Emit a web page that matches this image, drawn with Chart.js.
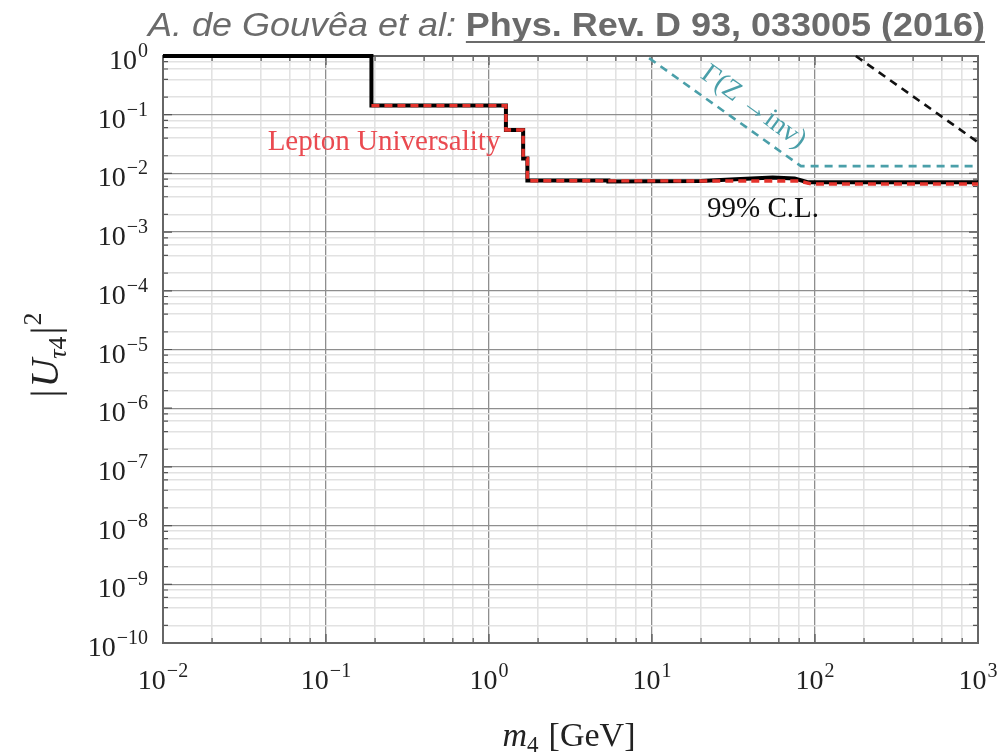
<!DOCTYPE html>
<html>
<head>
<meta charset="utf-8">
<script src="https://cdn.jsdelivr.net/npm/chart.js@4.4.1/dist/chart.umd.min.js"></script>
<style>
  body { margin: 0; background: #fff; }
  canvas { display: block; }
</style>
</head>
<body>
<canvas id="myChart1" width="997" height="754"></canvas>
<script>
// decades that get a label, and the minor grid steps inside each decade
var xDecades = [-2, -1, 0, 1, 2, 3];
var yDecades = [0, -1, -2, -3, -4, -5, -6, -7, -8, -9, -10];
var minorSteps = [2, 4, 6, 8];

// 99% C.L. bound (black solid)
var clMass = [0.01, 0.19, 0.19, 1.27, 1.27, 1.62, 1.62, 1.72, 1.72, 5.4, 5.4, 20, 35, 55, 75, 90, 1000];
var clU2 = [1, 1, 0.143, 0.143, 0.055, 0.055, 0.018, 0.018, 0.0076, 0.0076, 0.0073, 0.0074, 0.0080, 0.0085, 0.0082, 0.0071, 0.0071];

// lepton universality (red dashed)
var luMass = [0.19, 1.27, 1.27, 1.62, 1.62, 1.72, 1.72, 80, 95, 1000];
var luU2 = [0.143, 0.143, 0.055, 0.055, 0.018, 0.018, 0.0075, 0.0074, 0.0066, 0.0066];

// Gamma(Z -> inv) (teal dashed)
var zMass = [9.6, 82, 1000];
var zU2 = [0.92, 0.0133, 0.0133];

// black dashed, top right
var dMass = [178, 1000];
var dU2 = [1, 0.034];

function pts(xs, ys) {
  return xs.map(function (x, i) { return { x: x, y: ys[i] }; });
}

function gridValues(decades) {
  var out = [];
  decades.forEach(function (d) {
    out.push(Math.pow(10, d));
    minorSteps.forEach(function (m) { out.push(m * Math.pow(10, d)); });
  });
  var lo = Math.pow(10, Math.min.apply(null, decades));
  var hi = Math.pow(10, Math.max.apply(null, decades));
  return out.filter(function (v) { return v >= lo * 0.999 && v <= hi * 1.001; })
            .sort(function (a, b) { return a - b; });
}

function isMajor(v) {
  var l = Math.log10(v);
  return Math.abs(l - Math.round(l)) < 1e-6;
}

var SERIF = '"Liberation Serif", "DejaVu Serif", serif';
var SANS = '"Liberation Sans", Arial, sans-serif';

// text runs drawn one after another (for sub/superscripts)
function runsWidth(ctx, runs) {
  var w = 0;
  runs.forEach(function (r) { ctx.font = r.font; w += ctx.measureText(r.t).width + (r.gap || 0); });
  return w;
}
function drawRuns(ctx, runs, x, y) {
  runs.forEach(function (r) {
    ctx.font = r.font;
    ctx.fillText(r.t, x, y + (r.dy || 0));
    var w = ctx.measureText(r.t).width;
    if (r.underline) ctx.fillRect(x, y + 5, w, 2);
    x += w + (r.gap || 0);
  });
}
function powRuns(e) {
  return [
    { t: '10', font: '28px ' + SERIF, gap: 1 },
    { t: e < 0 ? '\u2212' + (-e) : String(e), font: '20px ' + SERIF, dy: -12 }
  ];
}

var decor = {
  id: 'decor',
  beforeDatasetsDraw: function (chart) {
    var ctx = chart.ctx, a = chart.chartArea;
    var xs = chart.scales.x, ys = chart.scales.y;
    ctx.save();
    ctx.strokeStyle = '#555';
    ctx.lineWidth = 1.2;
    xs.ticks.forEach(function (t) {
      var px = xs.getPixelForValue(t.value), len = isMajor(t.value) ? 9 : 5;
      ctx.beginPath();
      ctx.moveTo(px, a.bottom); ctx.lineTo(px, a.bottom - len);
      ctx.moveTo(px, a.top); ctx.lineTo(px, a.top + len);
      ctx.stroke();
    });
    ys.ticks.forEach(function (t) {
      var py = ys.getPixelForValue(t.value), len = isMajor(t.value) ? 9 : 5;
      ctx.beginPath();
      ctx.moveTo(a.left, py); ctx.lineTo(a.left + len, py);
      ctx.moveTo(a.right, py); ctx.lineTo(a.right - len, py);
      ctx.stroke();
    });
    ctx.strokeStyle = '#666';
    ctx.lineWidth = 2;
    ctx.strokeRect(a.left, a.top, a.right - a.left, a.bottom - a.top);
    ctx.restore();
  },
  afterDraw: function (chart) {
    var ctx = chart.ctx, a = chart.chartArea;
    var xs = chart.scales.x, ys = chart.scales.y;
    ctx.save();
    ctx.textAlign = 'left';
    ctx.textBaseline = 'alphabetic';

    // tick labels
    ctx.fillStyle = '#222';
    xDecades.forEach(function (d) {
      var runs = powRuns(d), w = runsWidth(ctx, runs);
      drawRuns(ctx, runs, xs.getPixelForValue(Math.pow(10, d)) - w / 2, a.bottom + 46);
    });
    yDecades.forEach(function (d) {
      var runs = powRuns(d), w = runsWidth(ctx, runs);
      drawRuns(ctx, runs, a.left - 15 - w, ys.getPixelForValue(Math.pow(10, d)) + 13);
    });

    // x axis title
    var xt = [
      { t: 'm', font: 'italic 34px ' + SERIF },
      { t: '4', font: '23px ' + SERIF, dy: 6, gap: 10 },
      { t: '[GeV]', font: '34px ' + SERIF }
    ];
    drawRuns(ctx, xt, 569 - runsWidth(ctx, xt) / 2, 746);

    // y axis title
    var yt = [
      { t: '|', font: '40px ' + SERIF, gap: 2 },
      { t: 'U', font: 'italic 40px ' + SERIF },
      { t: '\u03C4', font: 'italic 26px ' + SERIF, dy: 8 },
      { t: '4', font: '26px ' + SERIF, dy: 8, gap: 2 },
      { t: '|', font: '40px ' + SERIF, gap: 1 },
      { t: '2', font: '26px ' + SERIF, dy: -17 }
    ];
    ctx.save();
    ctx.translate(58, 355);
    ctx.rotate(-Math.PI / 2);
    drawRuns(ctx, yt, -runsWidth(ctx, yt) / 2, 0);
    ctx.restore();

    // title
    var tt = [
      { t: 'A. de Gouv\u00EAa et al: ', font: 'italic 33px ' + SANS },
      { t: 'Phys. Rev. D 93, 033005 (2016)', font: 'bold 33px ' + SANS, underline: true }
    ];
    var tw = runsWidth(ctx, tt), target = 985 - 148;
    ctx.save();
    ctx.fillStyle = '#6b6b6b';
    ctx.translate(148, 36);
    ctx.scale(target / tw, 1);
    drawRuns(ctx, tt, 0, 0);
    ctx.restore();

    // annotations
    ctx.textAlign = 'center';
    ctx.textBaseline = 'middle';
    ctx.font = '29px ' + SERIF;
    ctx.fillStyle = '#ea4a50';
    ctx.fillText('Lepton Universality', xs.getPixelForValue(0.227), ys.getPixelForValue(0.0343));
    ctx.fillStyle = '#111';
    ctx.fillText('99% C.L.', xs.getPixelForValue(48), ys.getPixelForValue(0.0024));
    ctx.save();
    ctx.fillStyle = '#4a9fa9';
    ctx.font = '28px ' + SERIF;
    ctx.translate(xs.getPixelForValue(42), ys.getPixelForValue(0.135));
    ctx.rotate(36 * Math.PI / 180);
    ctx.fillText('\u0393(Z \u2192inv)', 0, 0);
    ctx.restore();

    ctx.restore();
  }
};

function setTicks(values) {
  return function (scale) {
    scale.ticks = values.map(function (v) { return { value: v, major: isMajor(v) }; });
  };
}

function gridColor(c) { return c.tick && isMajor(c.tick.value) ? '#8e8e8e' : '#e2e2e2'; }
function gridWidth(c) { return c.tick && isMajor(c.tick.value) ? 1.3 : 1.6; }

new Chart(document.getElementById('myChart1'), {
  type: 'line',
  data: {
    datasets: [
      {
        label: 'Lepton Universality',
        data: pts(luMass, luU2),
        borderColor: '#e5332c',
        borderWidth: 3.4,
        borderDash: [8, 5],
        pointRadius: 0,
        tension: 0,
        clip: 4,
        order: 0
      },
      {
        label: '99% C.L.',
        data: pts(clMass, clU2),
        borderColor: '#000',
        borderWidth: 4,
        pointRadius: 0,
        tension: 0,
        clip: 4,
        order: 1
      },
      {
        label: 'Gamma(Z -> inv)',
        data: pts(zMass, zU2),
        borderColor: '#4a9fa9',
        borderWidth: 2.6,
        borderDash: [8, 6],
        pointRadius: 0,
        tension: 0,
        clip: 3,
        order: 2
      },
      {
        label: 'dashed',
        data: pts(dMass, dU2),
        borderColor: '#111',
        borderWidth: 2.6,
        borderDash: [8, 6],
        pointRadius: 0,
        tension: 0,
        clip: 3,
        order: 3
      }
    ]
  },
  options: {
    responsive: false,
    animation: false,
    layout: { padding: { left: 163, right: 19, top: 56, bottom: 111 } },
    plugins: {
      legend: { display: false },
      tooltip: { enabled: false }
    },
    scales: {
      x: {
        type: 'logarithmic',
        min: 0.01,
        max: 1000,
        afterBuildTicks: setTicks(gridValues(xDecades)),
        ticks: { display: false },
        border: { display: false },
        grid: { drawTicks: false, color: gridColor, lineWidth: gridWidth }
      },
      y: {
        type: 'logarithmic',
        min: 1e-10,
        max: 1,
        afterBuildTicks: setTicks(gridValues(yDecades)),
        ticks: { display: false },
        border: { display: false },
        grid: { drawTicks: false, color: gridColor, lineWidth: gridWidth }
      }
    }
  },
  plugins: [decor]
});
</script>
</body>
</html>
